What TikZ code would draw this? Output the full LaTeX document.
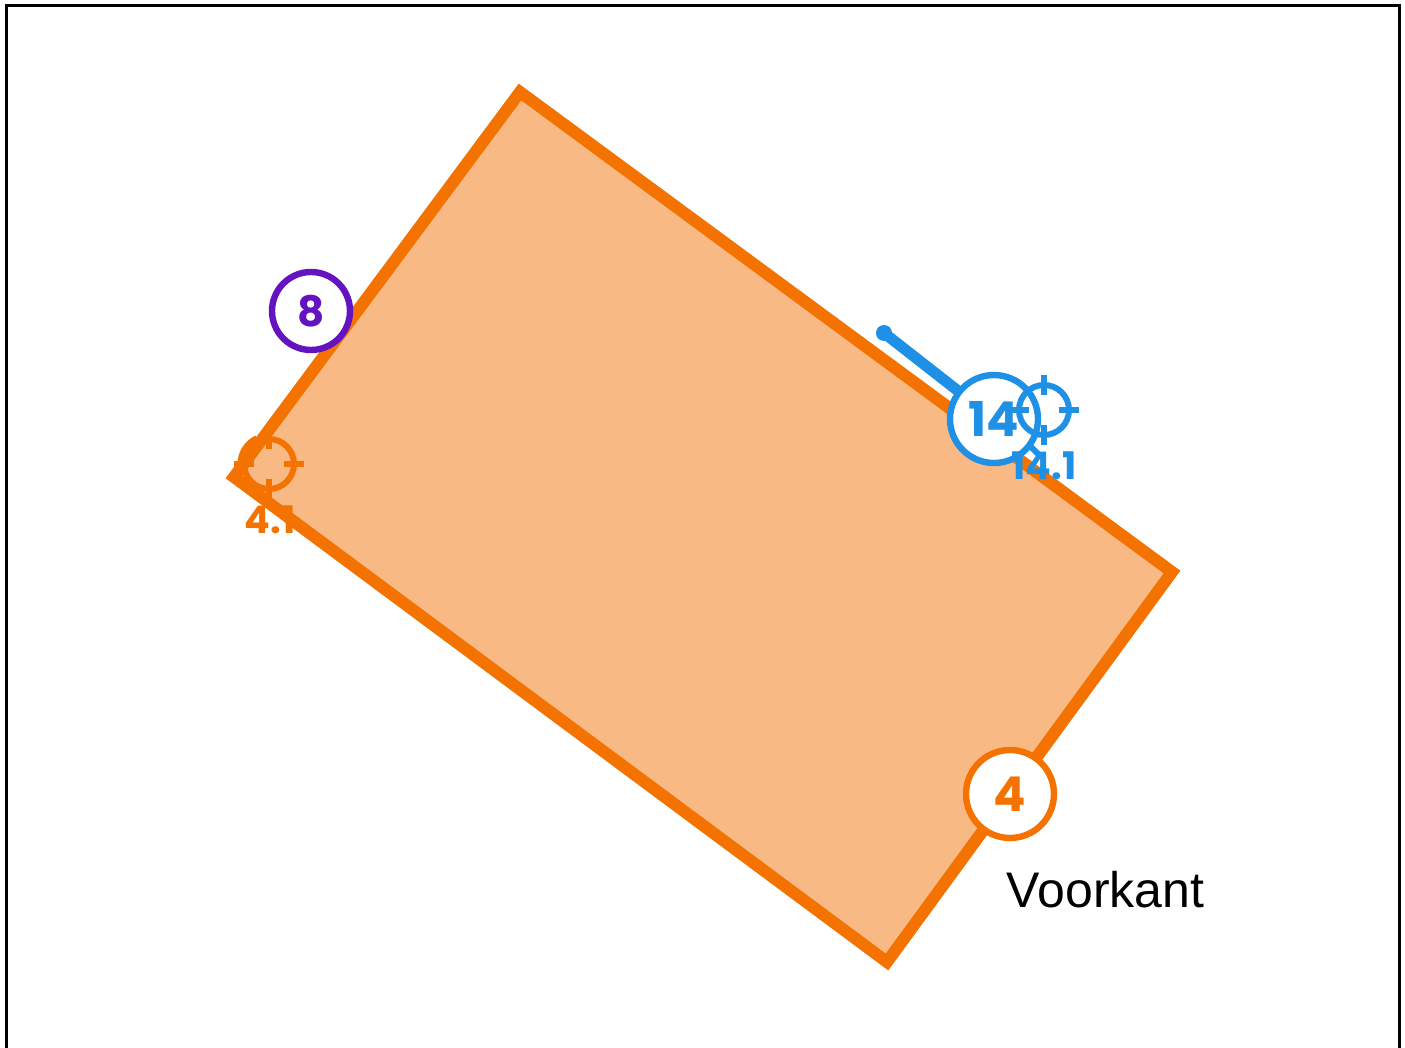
\documentclass[tikz,border=0pt]{standalone}
\usepackage{fontspec}
\setmainfont{Liberation Sans}
\newfontfamily\markfont{Poppins}
\definecolor{frontorange}{HTML}{F37200}
\definecolor{frontfill}{HTML}{F8B985}
\definecolor{pinblue}{HTML}{1E90E6}
\definecolor{pinpurple}{HTML}{6313BF}

\begin{document}
\begin{tikzpicture}[
    x=0.5pt, y=-0.5pt,
    badge/.style={draw=#1, text=#1, circle, inner sep=0pt, line width=3.2pt, fill=white, font=\markfont\bfseries\fontsize{24}{24}\selectfont},
    target/.style={draw=#1, circle, inner sep=0pt, minimum size=25pt, line width=3pt},
    targetlabel/.style={text=#1, font=\markfont\bfseries\fontsize{19}{19}\selectfont},
    tick/.style={line width=3.4pt},
    arrow/.style={line width=5.5pt, line cap=round}
]
\useasboundingbox (0,0) rectangle (1405,1048);

% Frame
\draw[line width=1.5pt] (6.5,1060) -- (6.5,6) -- (1399,6) -- (1399,1060);

% Front
\draw[frontorange, fill=frontfill, line width=6pt, miter limit=10] (520,92) -- (1172,572) -- (887,962) -- (234,477) -- cycle;

% Nodes
\coordinate (hold) at (884,333);
\node (front) at (1105.5,890) {\fontsize{25}{25}\selectfont Voorkant};
\node (four) [badge=frontorange, minimum size=44pt] at (1010,794) {4};
\node (eight) [badge=pinpurple, minimum size=39pt, font=\markfont\bfseries\fontsize{21}{21}\selectfont] at (311,311) {8};
\node (fourteen) [badge=pinblue, minimum size=44pt] at (994,419) {14};
\node (fourtarget) [target=frontorange] at (269,464) {};
\node (fourlabel) [targetlabel=frontorange] at (270,520) {4.1};
\node (fourteentarget) [target=pinblue] at (1044,410) {};
\node (fourteenlabel) [targetlabel=pinblue] at (1044,466) {14.1};

% Links
\fill[pinblue] (hold) circle (4pt);
\draw[arrow, pinblue] (hold) -- (fourteen);
\draw[line width=3pt, pinblue] (1028,444) -- (1040,456);
\draw[line width=4.5pt, frontorange] (fourtarget.center) ++(180:27) arc (180:245:27);

% Ticks
\foreach \a in {0,90,180,270} {
    \draw[tick, frontorange] (fourtarget.center) ++(\a:15) -- ++(\a:20);
    \draw[tick, pinblue] (fourteentarget.center) ++(\a:15) -- ++(\a:20);
}

\end{tikzpicture}
\end{document}
